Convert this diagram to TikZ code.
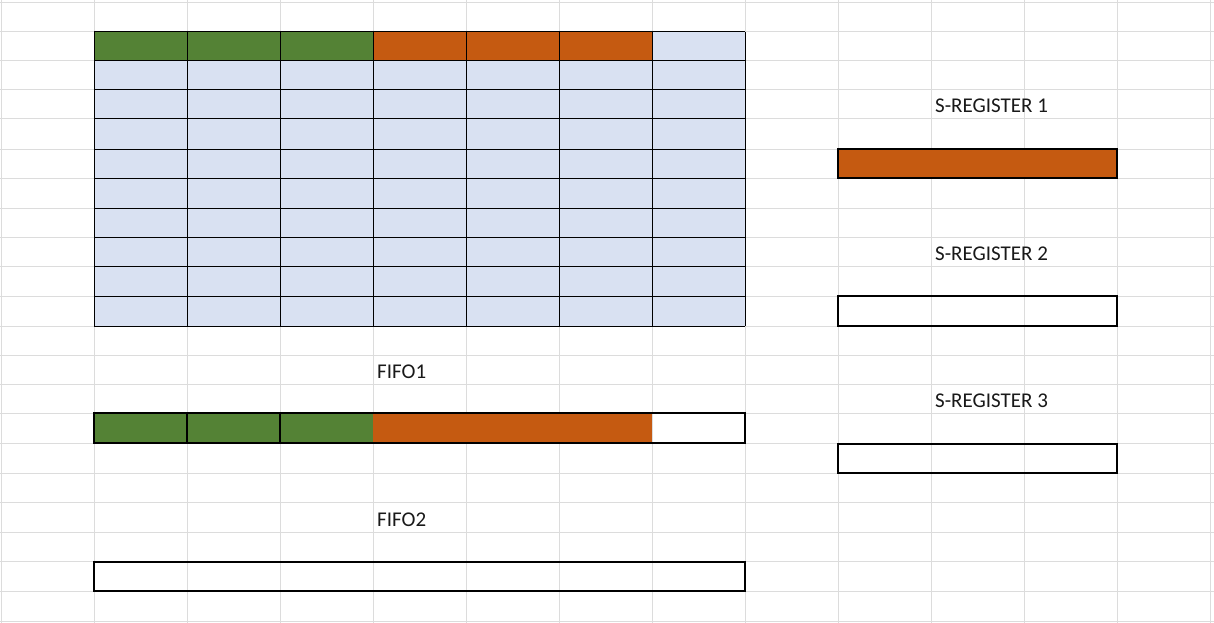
\documentclass[tikz,border=0pt]{standalone}
\usepackage{fontspec}
\setmainfont{Carlito}
\definecolor{xlgreen}{HTML}{548235}
\definecolor{xlorange}{HTML}{C55A11}
\definecolor{xlblue}{HTML}{D9E1F2}
\definecolor{xlgrid}{HTML}{DCDCDC}
\begin{document}
\begin{tikzpicture}[x=1pt,y=-1pt,
  gridline/.style={draw=xlgrid,line width=1pt},
  thinb/.style={draw=black,line width=1pt},
  divb/.style={draw=black,line width=1.3pt},
  thickb/.style={draw=black,line width=2.6pt},
  lbl/.style={anchor=base west,inner sep=0pt,font=\fontsize{21}{25}\selectfont,text=black!90}]
\useasboundingbox (0,0) rectangle (1214,623);
\fill[white] (0,0) rectangle (1214,623);
% spreadsheet grid
\foreach \y in {3,32,61,90,119,149,178,208,237,266,296,326,355,384,413,443,473,502,532,561,591,621}
  \draw[gridline] (0,\y) -- (1214,\y);
\foreach \x in {1,94,187,280,373,466,559,652,745,838,931,1024,1117,1210}
  \draw[gridline] (\x,0) -- (\x,623);
% table
\fill[xlblue] (94,32) rectangle (745,326);
\fill[xlgreen] (94,32) rectangle (373,61);
\fill[xlorange] (373,32) rectangle (652,61);
\foreach \x in {94,187,280,373,466,559,652,745}
  \draw[thinb] (\x,32) -- (\x,326);
\foreach \y in {32,61,90,119,149,178,208,237,266,296,326}
  \draw[thinb] (94,\y) -- (745,\y);
% FIFO1
\fill[xlgreen] (94,413) rectangle (373,443);
\fill[xlorange] (373,413) rectangle (652,443);
\draw[divb] (187,413) -- (187,443);
\draw[divb] (280,413) -- (280,443);
\draw[thickb] (94,413) rectangle (745,443);
% FIFO2
\draw[thickb] (94,562) rectangle (745,591);
% S-registers
\fill[xlorange] (838,149) rectangle (1117,178);
\draw[thickb] (838,149) rectangle (1117,178);
\draw[thickb] (838,296) rectangle (1117,326);
\draw[thickb] (838,444) rectangle (1117,473);
% labels
\node[lbl] (fifo1) at (377,378) {FIFO1};
\node[lbl] (fifo2) at (377,526) {FIFO2};
\node[lbl] (sreg1) at (935,113) {S-REGISTER 1};
\node[lbl] (sreg2) at (935,260) {S-REGISTER 2};
\node[lbl] (sreg3) at (935,407) {S-REGISTER 3};
\end{tikzpicture}
\end{document}
